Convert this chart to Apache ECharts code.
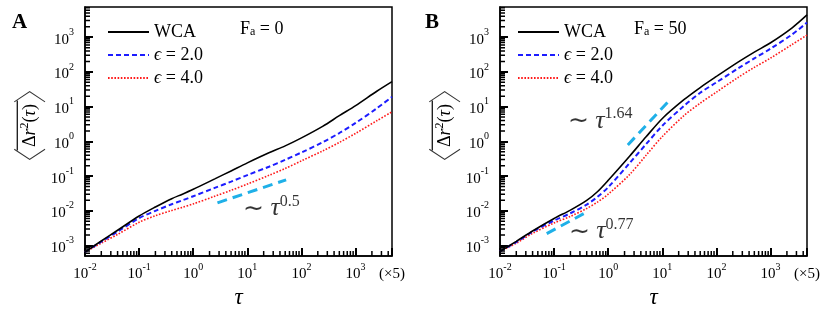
<!DOCTYPE html>
<html><head><meta charset="utf-8">
<script src="https://cdn.jsdelivr.net/npm/echarts@6/dist/echarts.min.js"></script>
<style>html,body{margin:0;padding:0;background:#fff}#c{width:830px;height:309px}</style>
</head><body><div id="c"></div>
<script>
// ---- data ----
const tau = [0.01,0.02,0.04,0.1,0.2,0.4,0.63,1,2.5,5,10,25,50,100,250,500,1000,2500,4700];
// Panel A, F_a = 0
const wcaA  = [0.00065,0.00135,0.00275,0.0071,0.0129,0.0224,0.0302,0.0417,0.0832,0.141,0.240,0.468,0.741,1.26,2.75,5.50,10.7,28.2,52.5];
const eps2A = [0.00065,0.00129,0.00251,0.00617,0.0100,0.0155,0.0200,0.0263,0.0457,0.0692,0.107,0.186,0.295,0.479,0.955,1.74,3.39,9.12,19.1];
const eps4A = [0.00065,0.00117,0.00209,0.00468,0.00724,0.0102,0.0126,0.0158,0.0263,0.0389,0.0589,0.105,0.166,0.275,0.537,0.933,1.70,3.98,7.08];
// Panel B, F_a = 50
const wcaB  = [0.00068,0.00132,0.00263,0.00603,0.0105,0.0200,0.0355,0.0759,0.380,1.35,4.57,15.8,35.5,74.1,191,372,692,1862,4365];
const eps2B = [0.00068,0.00126,0.00251,0.00525,0.00851,0.0151,0.0251,0.0479,0.240,0.832,2.82,10.5,25.1,50.1,126,245,468,1202,2630];
const eps4B = [0.00068,0.00117,0.00224,0.00447,0.00692,0.0117,0.0178,0.0302,0.112,0.398,1.38,5.50,12.6,26.3,69.2,135,251,617,1148];
// guide slopes
const slopeA  = [[2.8,0.017],[52,0.078]];          // ~ tau^0.5
const slopeB1 = [[2.3,0.79],[13.7,15.5]];          // ~ tau^1.64
const slopeB2 = [[0.073,0.0022],[0.42,0.0096]];    // ~ tau^0.77
// annotation anchor points [tau, msd, exponent text]
const noteA  = [28, 0.0125, '0.5'];
const noteB1 = [0.71, 4.1, '1.64'];
const noteB2 = [0.74, 0.0027, '0.77'];
// axis ranges and ticks
const X_MIN = 0.01, X_MAX = 4700, Y_MIN = 5e-4, Y_MAX = 7400;
const xTickExps = [-2,-1,0,1,2,3];
const yTickExps = [-3,-2,-1,0,1,2,3];
const seriesNames = ['WCA','ϵ = 2.0','ϵ = 4.0'];
const faLabels = ['0','50'];
const panelLabels = ['A','B'];

// ---- helpers ----
const L = Math.log10;
const SERIF = 'Liberation Serif';
const toXY = (xs, ys) => xs.map((x,i)=>[L(x), L(ys[i])]);
const near = (v, t) => Math.abs(v - t) < 1e-6;

// minor (log) ticks: short segments placed through the axes' own scales
const PLOT_W = 307, PLOT_H = 249, TICK_PX = 5;
const dxTick = TICK_PX / PLOT_W * (L(X_MAX) - L(X_MIN));
const dyTick = TICK_PX / PLOT_H * (L(Y_MAX) - L(Y_MIN));
const minorSeg = [];
for (let d = -2; d <= 3; d++) for (let k = 2; k <= 9; k++) {
  const v = L(k) + d;
  if (v < L(X_MAX)) minorSeg.push([v, L(Y_MIN)], [v, L(Y_MIN) + dyTick], '-');
}
for (let d = -4; d <= 3; d++) for (let k = 2; k <= 9; k++) {
  const v = L(k) + d;
  if (v > L(Y_MIN) && v < L(Y_MAX)) minorSeg.push([L(X_MIN), v], [L(X_MIN) + dxTick, v], '-');
}

const tickRich = {
  b:{fontSize:15, fontFamily:SERIF, color:'#000', verticalAlign:'bottom', lineHeight:20},
  s:{fontSize:10, fontFamily:SERIF, color:'#000', verticalAlign:'top', lineHeight:8},
  p:{fontSize:15, fontFamily:SERIF, color:'#000', verticalAlign:'bottom', lineHeight:20}
};
function xFmt(v) {
  if (near(v, L(X_MAX))) return '{p|(×5)}';
  for (const e of xTickExps) if (near(v, e)) return '{b|10}{s|' + (e<0?'-':'') + Math.abs(e) + '}';
  return '';
}
function yFmt(v) {
  for (const e of yTickExps) if (near(v, e)) return '{b|10}{s|' + (e<0?'-':'') + Math.abs(e) + '}';
  return '';
}

const lefts = [85, 500];
const grids = lefts.map(l => ({left:l, top:7, width:PLOT_W, height:PLOT_H, containLabel:false, outerBoundsMode:'none',
  show:true, borderColor:'#000', borderWidth:1.5, backgroundColor:'transparent'}));

const xAxes = lefts.map((l,i) => ({
  type:'value', gridIndex:i, min:L(X_MIN), max:L(X_MAX), minInterval:1, maxInterval:1,
  axisLine:{onZero:false, lineStyle:{color:'#000', width:1.5}},
  axisTick:{inside:true, length:8, lineStyle:{color:'#000', width:2}},
  splitLine:{show:false},
  axisLabel:{formatter:xFmt, rich:tickRich, margin:6, showMaxLabel:true, showMinLabel:true},
  name:'τ', nameLocation:'middle', nameGap:18,
  nameTextStyle:{fontFamily:SERIF, fontStyle:'italic', fontSize:23, color:'#000'}
}));

const yName = '{bar| }\n{br|〈}{u|Δ}{i|r}{sp|2}{u|(}{i|τ}{u|)}{br|〉}';
const yNameRich = {
  bar:{width:50, height:1.2, backgroundColor:'#000', align:'center', lineHeight:3},
  br:{fontSize:34, fontFamily:'Noto Sans CJK SC', fontWeight:'lighter', color:'#333', lineHeight:22},
  u:{fontSize:18, fontFamily:SERIF, color:'#000', lineHeight:22},
  i:{fontSize:18, fontFamily:SERIF, fontStyle:'italic', color:'#000', lineHeight:22},
  sp:{fontSize:12, fontFamily:SERIF, color:'#000', verticalAlign:'top', lineHeight:10}
};
const yAxes = lefts.map((l,i) => ({
  type:'value', gridIndex:i, min:L(Y_MIN), max:L(Y_MAX), minInterval:1, maxInterval:1,
  axisLine:{onZero:false, lineStyle:{color:'#000', width:1.5}},
  axisTick:{inside:true, length:8, lineStyle:{color:'#000', width:2}},
  splitLine:{show:false},
  axisLabel:{formatter:yFmt, rich:tickRich, margin:11, showMinLabel:false, showMaxLabel:false},
  name:yName, nameLocation:'middle', nameGap:39, nameRotate:90,
  nameTextStyle:{rich:yNameRich, padding:[0,0,0,12]}
}));

const styles = [
  {color:'#000', width:1.6, type:'solid'},
  {color:'#1c1cff', width:2, type:[5,3]},
  {color:'#ff1a1a', width:1.6, type:[1.6,1.6]}
];
const panels = [[wcaA, eps2A, eps4A], [wcaB, eps2B, eps4B]];
const series = [];
panels.forEach((sets, gi) => {
  sets.forEach((ys, si) => {
    series.push({
      type:'line', name:seriesNames[si], xAxisIndex:gi, yAxisIndex:gi,
      data:toXY(tau, ys), symbol:'none', smooth:0.3,
      lineStyle:{color:styles[si].color, width:styles[si].width, type:styles[si].type},
      itemStyle:{color:styles[si].color}, z:5 - si, animation:false
    });
  });
});
const slopeStyle = {color:'#1fb0e8', width:3, type:[10,6]};
[[slopeA,0],[slopeB1,1],[slopeB2,1]].forEach(([pts, gi]) => {
  series.push({type:'line', xAxisIndex:gi, yAxisIndex:gi, data:pts.map(p=>[L(p[0]),L(p[1])]),
    symbol:'none', lineStyle:slopeStyle, z:6, animation:false, silent:true});
});
const noteRich = {
  t:{fontSize:25, fontFamily:SERIF, color:'#000', verticalAlign:'bottom', lineHeight:28},
  i:{fontSize:26, fontFamily:SERIF, fontStyle:'italic', color:'#000', verticalAlign:'bottom', lineHeight:28},
  s:{fontSize:16, fontFamily:SERIF, color:'#000', verticalAlign:'top', lineHeight:16}
};
[[noteA,0],[noteB1,1],[noteB2,1]].forEach(([n, gi]) => {
  series.push({type:'scatter', xAxisIndex:gi, yAxisIndex:gi, data:[[L(n[0]), L(n[1])]],
    symbolSize:1, itemStyle:{color:'rgba(0,0,0,0)'}, silent:true, animation:false,
    label:{show:true, position:'inside', color:'#000', formatter:'{t|∼ }{i|τ}{s|' + n[2] + '}', rich:noteRich}});
});
[0,1].forEach(gi => {
  series.push({type:'line', xAxisIndex:gi, yAxisIndex:gi, data:minorSeg, symbol:'none',
    lineStyle:{color:'#000', width:1.5}, silent:true, animation:false, z:9});
});

const legRich = {
  r:{fontSize:18, fontFamily:SERIF, color:'#000', lineHeight:20},
  i:{fontSize:18, fontFamily:SERIF, fontStyle:'italic', color:'#000', lineHeight:20}
};
const legends = [107, 517].map(l => ({
  left:l, top:23, orient:'vertical', itemWidth:41, itemHeight:2, itemGap:5, padding:0,
  data:seriesNames, selectedMode:false, itemStyle:{opacity:0},
  formatter:n => n === 'WCA' ? '{r|WCA}' : '{i|ϵ}{r|' + n.slice(1) + '}',
  textStyle:{rich:legRich}
}));

const faRich = {
  r:{fontSize:18, fontFamily:SERIF, fontWeight:'normal', color:'#000', verticalAlign:'top', lineHeight:18},
  s:{fontSize:12, fontFamily:SERIF, fontWeight:'normal', color:'#000', verticalAlign:'bottom', lineHeight:8}
};
const titles = [
  {text:panelLabels[0], left:12, top:12, padding:0, textStyle:{fontFamily:SERIF, fontWeight:'bold', fontSize:21, color:'#000'}},
  {text:panelLabels[1], left:425, top:12, padding:0, textStyle:{fontFamily:SERIF, fontWeight:'bold', fontSize:21, color:'#000'}},
  {text:'{r|F}{s|a}{r| = ' + faLabels[0] + '}', left:240, top:20, padding:0, textStyle:{fontWeight:'normal', rich:faRich}},
  {text:'{r|F}{s|a}{r| = ' + faLabels[1] + '}', left:634, top:20, padding:0, textStyle:{fontWeight:'normal', rich:faRich}}
];

const chart = echarts.init(document.getElementById('c'), null, {renderer:'canvas'});
chart.setOption({
  animation:false, backgroundColor:'#fff',
  title:titles, legend:legends, grid:grids, xAxis:xAxes, yAxis:yAxes, series:series
});
</script></body></html>
